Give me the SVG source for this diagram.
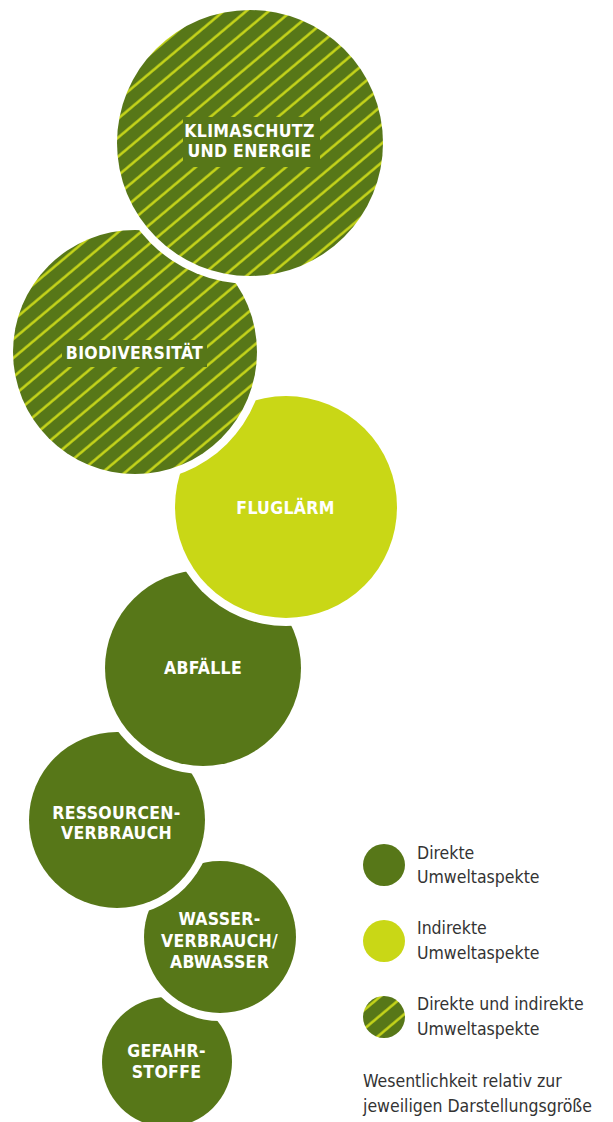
<svg xmlns="http://www.w3.org/2000/svg" width="613" height="1122" viewBox="0 0 613 1122">
<defs>
<pattern id="hatch" patternUnits="userSpaceOnUse" width="20" height="14.5" patternTransform="rotate(-40)">
<rect x="0" y="0" width="20" height="14.5" fill="#577718"/>
<rect x="-1" y="6.1" width="22" height="2.4" fill="#cbd91a"/>
</pattern>
</defs>
<style>
.halo{fill:#ffffff}
.dir{fill:#577718}
.ind{fill:#c9d716}
.both{fill:url(#hatch)}
.plate{fill:#577718}
.lbl{font-family:"DejaVu Sans Condensed","DejaVu Sans",sans-serif;font-weight:bold;font-size:17.5px;fill:#ffffff;text-anchor:middle;letter-spacing:0.3px}
.leg{font-family:"DejaVu Sans Condensed","DejaVu Sans",sans-serif;font-size:17.5px;fill:#333333}
</style>
<rect width="613" height="1122" fill="#ffffff"/>
<g id="connectors"/>
<g id="gefahrstoffe">
<circle class="dir" cx="167" cy="1062" r="65"/>
<text class="lbl" x="166.5" y="1057">GEFAHR-</text>
<text class="lbl" x="166.5" y="1078">STOFFE</text>
</g>
<g id="wasser">
<circle class="halo" cx="220" cy="937" r="84"/>
<circle class="dir" cx="220" cy="937" r="76"/>
<text class="lbl" x="219.5" y="925">WASSER-</text>
<text class="lbl" x="219.5" y="947">VERBRAUCH/</text>
<text class="lbl" x="219.5" y="968">ABWASSER</text>
</g>
<g id="ressourcen">
<circle class="halo" cx="117" cy="820" r="96"/>
<circle class="dir" cx="117" cy="820" r="88"/>
<text class="lbl" x="116.5" y="819">RESSOURCEN-</text>
<text class="lbl" x="116.5" y="839">VERBRAUCH</text>
</g>
<g id="abfaelle">
<circle class="halo" cx="203" cy="668" r="106"/>
<circle class="dir" cx="203" cy="668" r="98"/>
<text class="lbl" x="203" y="674">ABFÄLLE</text>
</g>
<g id="fluglaerm">
<circle class="halo" cx="286" cy="507" r="119"/>
<circle class="ind" cx="286" cy="507" r="111"/>
<text class="lbl" x="285.5" y="514">FLUGLÄRM</text>
</g>
<g id="biodiversitaet">
<circle class="halo" cx="135" cy="352" r="130"/>
<circle class="both" cx="135" cy="352" r="122"/>
<rect class="plate" x="62" y="340" width="145" height="27"/>
<text class="lbl" x="134.5" y="359">BIODIVERSITÄT</text>
</g>
<g id="klimaschutz">
<circle class="halo" cx="250" cy="143" r="141"/>
<circle class="both" cx="250" cy="143" r="133"/>
<rect class="plate" x="183" y="117" width="137" height="50"/>
<text class="lbl" x="249.5" y="137">KLIMASCHUTZ</text>
<text class="lbl" x="249.5" y="157">UND ENERGIE</text>
</g>
<g id="legend">
<circle class="dir" cx="384" cy="865" r="21"/>
<text class="leg" x="417" y="859">Direkte</text>
<text class="leg" x="417" y="883">Umweltaspekte</text>
<circle class="ind" cx="384" cy="941" r="21"/>
<text class="leg" x="417" y="934">Indirekte</text>
<text class="leg" x="417" y="959">Umweltaspekte</text>
<circle class="both" cx="384" cy="1017" r="21"/>
<text class="leg" x="417" y="1010">Direkte und indirekte</text>
<text class="leg" x="417" y="1035">Umweltaspekte</text>
<text class="leg" x="363" y="1087">Wesentlichkeit relativ zur</text>
<text class="leg" x="363" y="1112">jeweiligen Darstellungsgröße</text>
</g>
</svg>
